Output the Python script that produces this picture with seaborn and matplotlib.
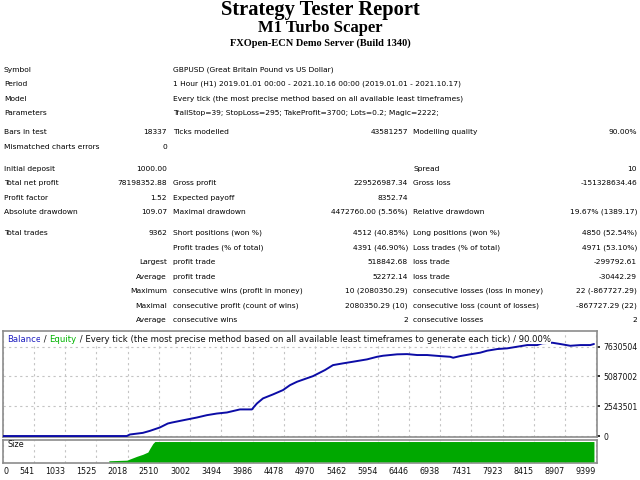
import matplotlib
matplotlib.use("Agg")
import matplotlib.pyplot as plt
import numpy as np
import pandas as pd
import seaborn as sns

# ---- report header ----
title_main = "Strategy Tester Report"
title_ea = "M1 Turbo Scaper"
title_server = "FXOpen-ECN Demo Server (Build 1340)"

info_labels = ["Symbol", "Period", "Model", "Parameters"]
info_values = [
    "GBPUSD (Great Britain Pound vs US Dollar)",
    "1 Hour (H1) 2019.01.01 00:00 - 2021.10.16 00:00 (2019.01.01 - 2021.10.17)",
    "Every tick (the most precise method based on all available least timeframes)",
    "TrallStop=39; StopLoss=295; TakeProfit=3700; Lots=0.2; Magic=2222;",
]

# each row: label, value, label, value, label, value
stat_rows = [
    ["Bars in test", "18337", "Ticks modelled", "43581257", "Modelling quality", "90.00%"],
    ["Mismatched charts errors", "0", "", "", "", ""],
    ["Initial deposit", "1000.00", "", "", "Spread", "10"],
    ["Total net profit", "78198352.88", "Gross profit", "229526987.34", "Gross loss", "-151328634.46"],
    ["Profit factor", "1.52", "Expected payoff", "8352.74", "", ""],
    ["Absolute drawdown", "109.07", "Maximal drawdown", "4472760.00 (5.56%)", "Relative drawdown", "19.67% (1389.17)"],
    ["Total trades", "9362", "Short positions (won %)", "4512 (40.85%)", "Long positions (won %)", "4850 (52.54%)"],
    ["", "", "Profit trades (% of total)", "4391 (46.90%)", "Loss trades (% of total)", "4971 (53.10%)"],
    ["", "Largest", "profit trade", "518842.68", "loss trade", "-299792.61"],
    ["", "Average", "profit trade", "52272.14", "loss trade", "-30442.29"],
    ["", "Maximum", "consecutive wins (profit in money)", "10 (2080350.29)", "consecutive losses (loss in money)", "22 (-867727.29)"],
    ["", "Maximal", "consecutive profit (count of wins)", "2080350.29 (10)", "consecutive loss (count of losses)", "-867727.29 (22)"],
    ["", "Average", "consecutive wins", "2", "consecutive losses", "2"],
]

# ---- balance curve ----
balance_trade = [52, 2003, 2050, 2255, 2366, 2523, 2649, 2712, 2839, 2949, 3107,
                 3264, 3422, 3580, 3785, 3974, 4006, 4053, 4148, 4305, 4463,
                 4573, 4684, 4936, 5125, 5251, 5409, 5567, 5788, 5945, 6040,
                 6261, 6418, 6576, 6734, 6939, 7097, 7144, 7254, 7412, 7570,
                 7680, 7838, 7995, 8153, 8311, 8468, 8547, 8705, 8831, 8989,
                 9147, 9304, 9362]
balance_value = [1000, 1000, 130000, 270000, 440000, 730000, 1070000, 1150000,
                 1290000, 1410000, 1580000, 1780000, 1920000, 2010000, 2270000,
                 2270000, 2490000, 2780000, 3210000, 3550000, 3920000, 4340000,
                 4630000, 5110000, 5630000, 6050000, 6200000, 6340000, 6540000,
                 6760000, 6850000, 6970000, 6990000, 6910000, 6910000, 6820000,
                 6760000, 6680000, 6820000, 6970000, 7110000, 7280000, 7420000,
                 7480000, 7620000, 7760000, 7760000, 7910000, 7960000, 7850000,
                 7700000, 7760000, 7760000, 7850000]

# ---- lot size panel (relative to max size) ----
size_trade = [1719, 2003, 2160, 2255, 2334, 2366, 2413, 2444, 9362]
size_value = [0.05, 0.08, 0.27, 0.37, 0.48, 0.66, 0.90, 1.0, 1.0]

y_ticks = [0, 2543501, 5087002, 7630504]
y_labels = ["0", "2543501", "5087002", "7630504"]
x_ticks = [52, 541, 1033, 1525, 2018, 2510, 3002, 3494, 3986, 4478, 4970,
           5462, 5954, 6446, 6938, 7431, 7923, 8415, 8907, 9399]
x_labels = ["0", "541", "1033", "1525", "2018", "2510", "3002", "3494", "3986",
            "4478", "4970", "5462", "5954", "6446", "6938", "7431", "7923",
            "8415", "8907", "9399"]

balance_df = pd.DataFrame({"trade": balance_trade, "balance": balance_value})
size_df = pd.DataFrame({"trade": size_trade, "size": size_value})

sns.set_theme(style="white")
plt.rcParams["font.family"] = ["DejaVu Sans"]
plt.rcParams["text.color"] = "black"

W, H = 640, 480
fig = plt.figure(figsize=(6.4, 4.8), dpi=100)


def px(x, y):
    return x / W, 1 - y / H


serif = ["Liberation Serif", "DejaVu Serif"]
fig.text(*px(320, 15), title_main, ha="center", va="baseline", fontsize=14.8,
         fontweight="bold", family=serif)
fig.text(*px(320, 28), title_ea, ha="center", va="center", fontsize=12,
         fontweight="bold", family=serif)
fig.text(*px(320, 43), title_server, ha="center", va="center", fontsize=7.5,
         fontweight="bold", family=serif)

fs = 5.4
info_y = [70, 84, 99, 113]
for yy, lab, val in zip(info_y, info_labels, info_values):
    fig.text(*px(4, yy), lab, ha="left", va="center", fontsize=fs)
    fig.text(*px(173, yy), val, ha="left", va="center", fontsize=fs)

row_y = [132, 147, 169, 183, 198, 212, 233, 248, 262, 277, 291, 306, 320]
col_x = [4, 167, 173, 408, 413, 637]
col_ha = ["left", "right", "left", "right", "left", "right"]
for yy, row in zip(row_y, stat_rows):
    for xx, ha, txt in zip(col_x, col_ha, row):
        if txt:
            fig.text(*px(xx, yy), txt, ha=ha, va="center", fontsize=fs)

# ---- chart panels ----
left, right = 3, 597
ax = fig.add_axes([left / W, 1 - 436.5 / H, (right - left) / W, 105.5 / H])
ax2 = fig.add_axes([left / W, 1 - 463 / H, (right - left) / W, 23.5 / H])

sns.lineplot(data=balance_df, x="trade", y="balance", ax=ax, color="#0c0ca6",
             linewidth=1.4, zorder=3)
ax2.fill_between(size_df["trade"], 0, size_df["size"], color="#00a800",
                 linewidth=0, zorder=3)

xmin, xmax = 52, 9410
ax.set_xlim(xmin, xmax)
ax2.set_xlim(xmin, xmax)
ax.set_ylim(-40000, 8960000)
ax2.set_ylim(-0.06, 1.1)

grid_kw = dict(color="#c4c4c4", linestyle=(0, (2, 3)), linewidth=0.8)
for a in (ax, ax2):
    a.set_xticks(x_ticks)
    a.set_xlabel("")
    a.set_ylabel("")
    a.grid(True, axis="x", **grid_kw)
    for s in a.spines.values():
        s.set_color("#8c8c8c")
        s.set_linewidth(1.2)
ax.grid(True, axis="y", **grid_kw)

ax.set_yticks(y_ticks)
ax.set_yticklabels(y_labels)
ax.yaxis.tick_right()
ax.tick_params(axis="y", length=2, pad=2.5, labelsize=5.6, colors="#111111",
               right=True)
ax.tick_params(axis="x", bottom=False, labelbottom=False)

ax2.set_yticks([])
ax2.set_xticklabels(x_labels)
ax2.tick_params(axis="x", length=0, pad=3, labelsize=5.8, colors="#111111")
for i, lab in enumerate(ax2.get_xticklabels()):
    lab.set_ha("left" if i == 0 else "right")

ax2.text(5 / (right - left), 0.8, "Size", transform=ax2.transAxes,
         ha="left", va="center", fontsize=5.8, color="#111111", zorder=5)

# chart caption: Balance / Equity / ...
cap_fs = 6.08
bb = dict(facecolor="white", edgecolor="none", pad=0.6)
pieces = [("Balance", "#2020c0"), (" / ", "#111111"), ("Equity", "#00b400"),
          (" / Every tick (the most precise method based on all available "
           "least timeframes to generate each tick) / 90.00%", "#111111")]
prev = ax.text((7 - left) / (right - left), 1 - 8 / 105.5, pieces[0][0],
               transform=ax.transAxes, ha="left", va="center",
               fontsize=cap_fs, color=pieces[0][1], bbox=bb, zorder=6)
for txt, col in pieces[1:]:
    prev = ax.annotate(txt, xy=(1, 0), xycoords=prev, ha="left", va="bottom",
                       fontsize=cap_fs, color=col, bbox=bb, zorder=6)

fig.savefig("out.png", dpi=100)
